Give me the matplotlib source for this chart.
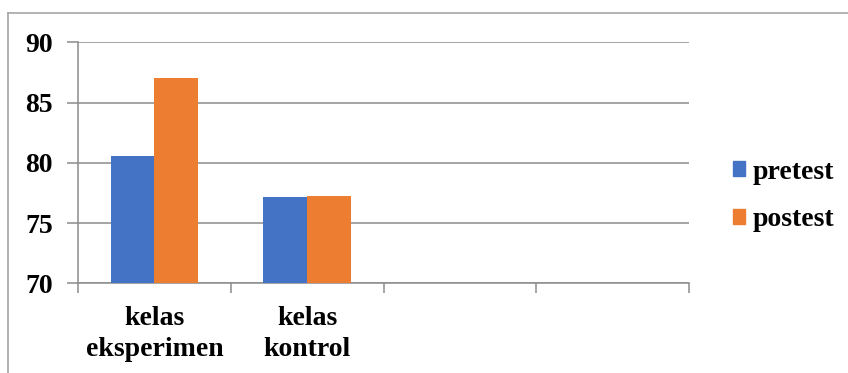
import matplotlib
matplotlib.use('Agg')
import matplotlib.pyplot as plt
from matplotlib.patches import Patch
from matplotlib.lines import Line2D

# scores per class group
categories = ['kelas\neksperimen', 'kelas\nkontrol', '', '']
pretest = [80.6, 77.17]
postest = [87.0, 77.25]
y_ticks = [70, 75, 80, 85, 90]

BLUE = '#4472C4'
ORANGE = '#ED7D31'
GRID = '#8C8C8C'

plt.rcParams['font.family'] = ['Liberation Serif', 'DejaVu Serif']
plt.rcParams['font.weight'] = 'bold'
plt.rcParams['font.size'] = 20

fig = plt.figure(figsize=(8.48, 3.73), dpi=100)
ax = fig.add_axes([78 / 848, 1 - 283.3 / 373, (689 - 78) / 848, (283.3 - 42.3) / 373])

w = 1 / 3.5
x_pre = [i - w / 2 for i in range(len(pretest))]
x_post = [i + w / 2 for i in range(len(postest))]
ax.bar(x_pre, [v - 70 for v in pretest], width=w, bottom=70, color=BLUE, zorder=3)
ax.bar(x_post, [v - 70 for v in postest], width=w, bottom=70, color=ORANGE, zorder=3)

ax.set_xlim(-0.5, len(categories) - 0.5)
ax.set_ylim(70, 90)
ax.set_yticks(y_ticks)
ax.yaxis.grid(True, color=GRID, linewidth=1.1, zorder=0)

# category labels sit between boundary ticks
ax.set_xticks([i - 0.5 for i in range(len(categories) + 1)])
ax.set_xticklabels([])
ax.set_xticks(range(len(categories)), minor=True)
ax.set_xticklabels(categories, minor=True, fontweight='bold', linespacing=1.32)
ax.tick_params(axis='x', which='minor', length=0, pad=16)
ax.tick_params(axis='x', which='major', length=7, width=1.1, color=GRID, direction='out')
ax.tick_params(axis='y', length=8, width=1.1, color=GRID, direction='out', pad=10)
for lbl in ax.get_yticklabels():
    lbl.set_fontweight('bold')

for side in ['top', 'right']:
    ax.spines[side].set_visible(False)
for side in ['left', 'bottom']:
    ax.spines[side].set_color(GRID)
    ax.spines[side].set_linewidth(1.1)

handles = [Patch(color=BLUE, label='pretest'), Patch(color=ORANGE, label='postest')]
fig.legend(handles=handles, loc='center left', bbox_to_anchor=(708 / 848, 1 - 196 / 373),
           frameon=False, handlelength=0.44, handleheight=0.44, handletextpad=0.26,
           labelspacing=0.82, prop={'weight': 'bold', 'size': 20})

# chart area border (top and left edges)
fig.add_artist(Line2D([7.5 / 848, 1.0], [1 - 13 / 373, 1 - 13 / 373], color='#A6A6A6', linewidth=1.2))
fig.add_artist(Line2D([7.5 / 848, 7.5 / 848], [0, 1 - 13 / 373], color='#A6A6A6', linewidth=1.2))

fig.savefig('out.png', dpi=100)
